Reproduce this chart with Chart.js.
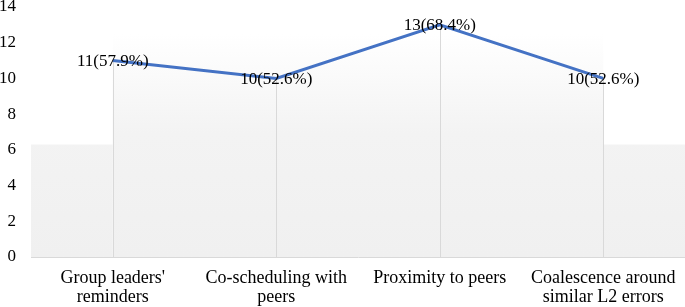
<!DOCTYPE html>
<html>
<head>
<meta charset="utf-8">
<script src="https://cdn.jsdelivr.net/npm/chart.js@4/dist/chart.umd.min.js"></script>
<style>
  html, body { margin: 0; padding: 0; background: #fff; }
  #wrap { width: 685px; height: 307px; }
</style>
</head>
<body>
<div id="wrap"><canvas id="lineChart"></canvas></div>
<script>
// data
const categories = [
  ["Group leaders'", "reminders"],
  ["Co-scheduling with", "peers"],
  ["Proximity to peers"],
  ["Coalescence around", "similar L2 errors"]
];
const counts = [11, 10, 13, 10];
const percents = [57.9, 52.6, 68.4, 52.6];
const yTicks = [0, 2, 4, 6, 8, 10, 12, 14];

// background panel heights (in axis units)
const panelOuterTop = 6.3;
const panelInnerTop = 12.5;

const serif = "'Liberation Serif', 'Times New Roman', serif";

// grey backdrop behind the plot (wall + raised middle part)
const panelPlugin = {
  id: 'panel',
  beforeDatasetsDraw(chart) {
    const { ctx, chartArea, scales } = chart;
    const x = scales.x, y = scales.y;
    const yBase = y.getPixelForValue(0);
    const yOuter = y.getPixelForValue(panelOuterTop);
    const yInner = y.getPixelForValue(panelInnerTop);
    const xFirst = x.getPixelForValue(0);
    const xLast = x.getPixelForValue(categories.length - 1);

    const grad = ctx.createLinearGradient(0, yInner, 0, yBase);
    grad.addColorStop(0, '#ffffff');
    grad.addColorStop(0.45, '#f3f3f3');
    grad.addColorStop(1, '#f0f0f0');

    ctx.save();
    ctx.fillStyle = grad;
    ctx.fillRect(chartArea.left, yOuter, xFirst - chartArea.left, yBase - yOuter);
    ctx.fillRect(xLast, yOuter, chartArea.right - xLast, yBase - yOuter);
    ctx.fillRect(xFirst, yInner, xLast - xFirst, yBase - yInner);

    // drop lines from each point to the axis
    const meta = chart.getDatasetMeta(0);
    ctx.strokeStyle = '#d9d9d9';
    ctx.lineWidth = 1;
    meta.data.forEach(pt => {
      const px = Math.round(pt.x) + 0.5;
      ctx.beginPath();
      ctx.moveTo(px, pt.y);
      ctx.lineTo(px, yBase);
      ctx.stroke();
    });
    ctx.restore();
  }
};

// "11(57.9%)" style labels centred on the points
const labelPlugin = {
  id: 'pointLabels',
  afterDatasetsDraw(chart) {
    const { ctx } = chart;
    const meta = chart.getDatasetMeta(0);
    ctx.save();
    ctx.font = '17px ' + serif;
    ctx.fillStyle = '#000';
    ctx.textAlign = 'center';
    ctx.textBaseline = 'middle';
    meta.data.forEach((pt, i) => {
      ctx.fillText(counts[i] + '(' + percents[i] + '%)', pt.x, pt.y + 1);
    });
    ctx.restore();
  }
};

new Chart(document.getElementById('lineChart'), {
  type: 'line',
  data: {
    labels: categories,
    datasets: [{
      data: counts,
      borderColor: '#4472c4',
      borderWidth: 3,
      pointRadius: 0,
      tension: 0,
      fill: false
    }]
  },
  options: {
    responsive: true,
    maintainAspectRatio: false,
    animation: false,
    layout: { padding: 0 },
    plugins: {
      legend: { display: false },
      tooltip: { enabled: false }
    },
    scales: {
      x: {
        offset: true,
        grid: { display: false, drawTicks: false },
        border: { display: true, color: '#d9d9d9', width: 1 },
        ticks: {
          color: '#000',
          padding: 11,
          maxRotation: 0,
          autoSkip: false,
          font: { family: serif, size: 18, lineHeight: 1.1 }
        },
        afterFit(scale) {
          scale.height = 50;
          scale.paddingLeft = 0;
          scale.paddingRight = 0;
        }
      },
      y: {
        min: 0,
        max: 14,
        afterBuildTicks(scale) { scale.ticks = yTicks.map(v => ({ value: v })); },
        grid: { display: false, drawTicks: false },
        border: { display: false },
        ticks: {
          color: '#000',
          padding: 15,
          font: { family: serif, size: 17 }
        },
        afterFit(scale) {
          scale.width = 31;
          scale.paddingTop = 7;
          scale.paddingBottom = 0;
        }
      }
    }
  },
  plugins: [panelPlugin, labelPlugin]
});
</script>
</body>
</html>
